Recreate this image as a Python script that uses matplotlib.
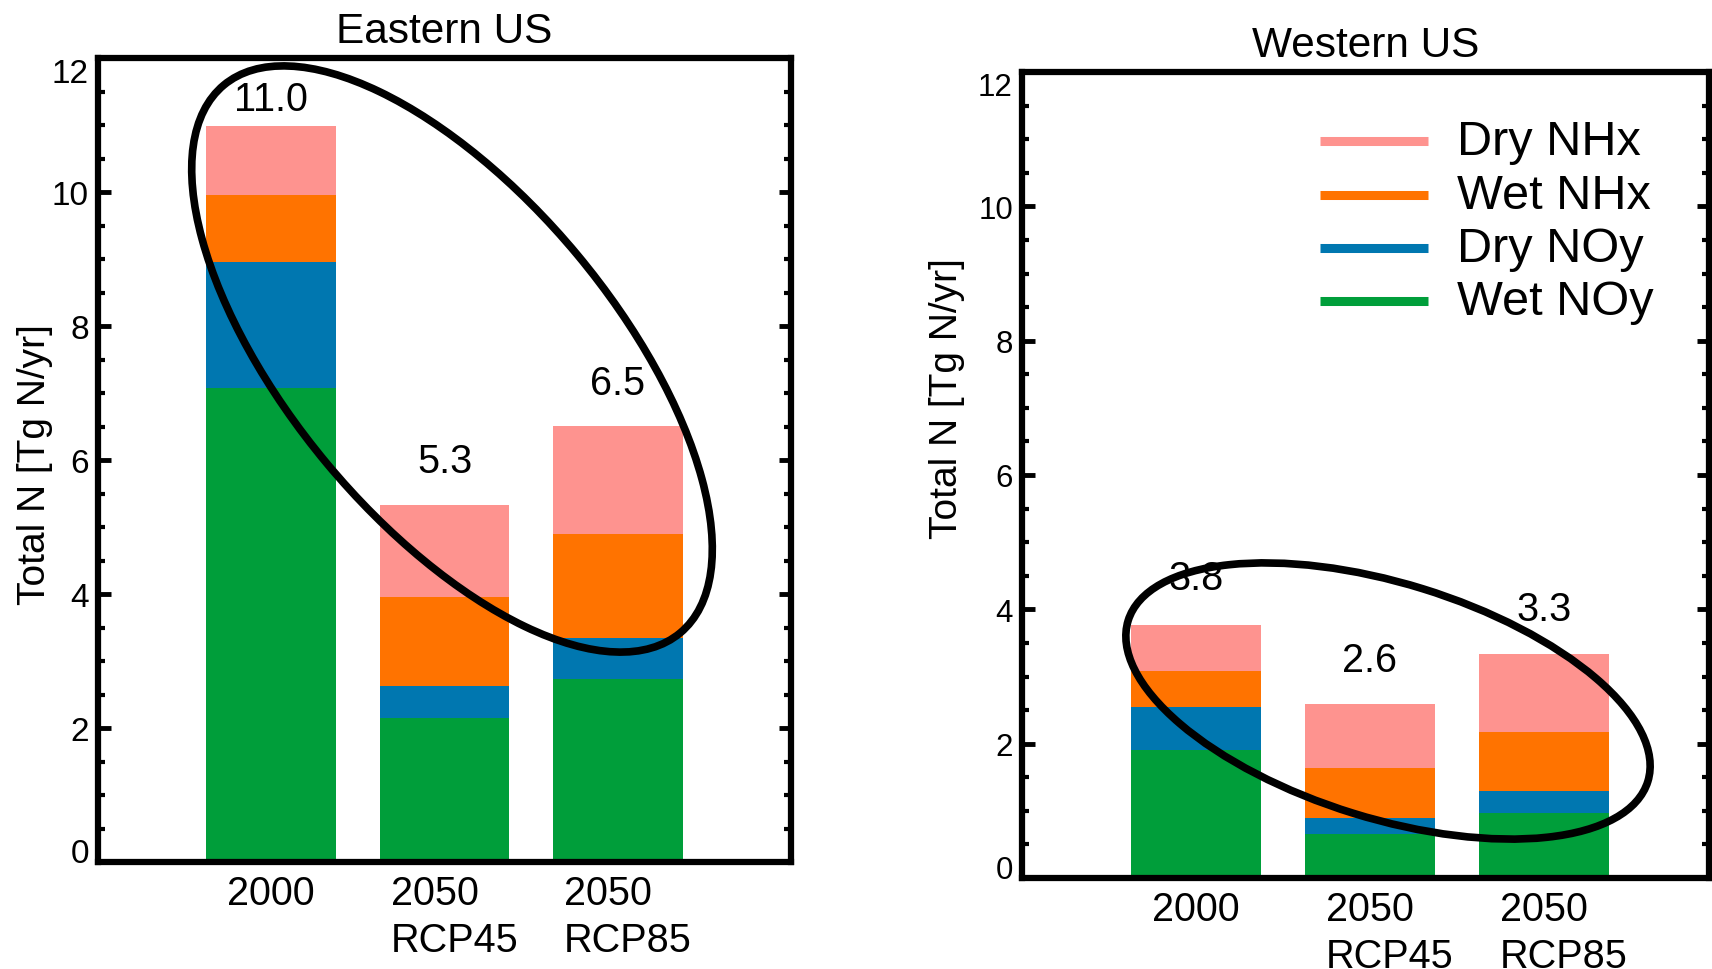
import numpy as np
import matplotlib
matplotlib.use("Agg")
import matplotlib.pyplot as plt
from matplotlib.patches import Ellipse
from matplotlib.ticker import MultipleLocator
from matplotlib.transforms import ScaledTranslation

plt.rcParams['font.family'] = ['Liberation Sans', 'DejaVu Sans']

scenarios = ['2000', '2050\nRCP45', '2050\nRCP85']
species = ['Dry NHx', 'Wet NHx', 'Dry NOy', 'Wet NOy']
colors = {'Dry NHx': '#fe938f', 'Wet NHx': '#ff7300',
          'Dry NOy': '#0077b0', 'Wet NOy': '#009e3a'}
yticks = [0, 2, 4, 6, 8, 10, 12]

# deposition, Tg N/yr
east_wet_noy = [7.08, 2.15, 2.73]
east_dry_noy = [1.87, 0.48, 0.61]
east_wet_nhx = [1.01, 1.32, 1.56]
east_dry_nhx = [1.03, 1.38, 1.60]

west_wet_noy = [1.91, 0.65, 0.97]
west_dry_noy = [0.64, 0.25, 0.33]
west_wet_nhx = [0.53, 0.74, 0.88]
west_dry_nhx = [0.68, 0.95, 1.16]


def panel(ax, stack, title, pads, xmax, tsize, ylab_xy, shift):
    x = np.arange(1, len(scenarios) + 1)
    bottom = np.zeros(len(x))
    # stacked bottom -> top
    for name in ['Wet NOy', 'Dry NOy', 'Wet NHx', 'Dry NHx']:
        vals = np.array(stack[name])
        ax.bar(x, vals, 0.75, bottom=bottom, color=colors[name], linewidth=0)
        bottom += vals
    for xi, tot, p in zip(x, bottom, pads):
        ax.annotate(f'{tot:.1f}', xy=(xi, tot), xytext=(0, p),
                    textcoords='offset points', ha='center', va='baseline',
                    fontsize=28.5)

    ax.set_xlim(0, xmax)
    ax.set_ylim(0, 12)
    ax.set_xticks(x)
    ax.set_xticklabels(scenarios, fontsize=28.5, linespacing=1.3, ma='left')
    ax.set_yticks(yticks)
    ax.yaxis.set_minor_locator(MultipleLocator(0.5))
    ax.tick_params(axis='x', which='both', length=0, pad=9)
    ax.tick_params(axis='y', which='both', direction='in', left=True, right=True)
    ax.tick_params(axis='y', which='major', length=9, width=3.5, pad=6.5,
                   labelsize=tsize)
    ax.tick_params(axis='y', which='minor', length=5, width=3)
    for s in ax.spines.values():
        s.set_linewidth(4.5)
    ax.set_title(title, fontsize=30.5, pad=11.5)
    ax.set_ylabel('Total N [Tg N/yr]', fontsize=28)
    ax.yaxis.set_label_coords(*ylab_xy)

    # end labels kept inside the frame
    ylabs = ax.get_yticklabels()
    ylabs[0].set_va('baseline')
    ylabs[-1].set_va('top')
    for lab in ax.get_xticklabels():
        if '\n' in lab.get_text():
            lab.set_transform(lab.get_transform() +
                              ScaledTranslation(shift / 100, 0, fig.dpi_scale_trans))


fig = plt.figure(figsize=(17.12, 9.70), dpi=100)
ax1 = fig.add_axes([98 / 1712, 1 - 863 / 970, 693 / 1712, 804 / 970])
ax2 = fig.add_axes([1022 / 1712, 1 - 879 / 970, 687 / 1712, 806 / 970])

east = {'Wet NOy': east_wet_noy, 'Dry NOy': east_dry_noy,
        'Wet NHx': east_wet_nhx, 'Dry NHx': east_dry_nhx}
west = {'Wet NOy': west_wet_noy, 'Dry NOy': west_dry_noy,
        'Wet NHx': west_wet_nhx, 'Dry NHx': west_dry_nhx}

panel(ax1, east, 'Eastern US', [11, 23.5, 23.5], 4.0, 24, (-0.065, 0.496), 10)
panel(ax2, west, 'Western US', [26, 24, 24], 3.95, 22.5, (-0.083, 0.596), 20)

# legend drawn by hand in the western panel
for i, name in enumerate(species):
    y = 0.914 - i * 0.0661
    ax2.plot([0.434, 0.591], [y, y], color=colors[name], lw=6.5,
             solid_capstyle='butt', transform=ax2.transAxes)
    ax2.text(0.633, y - 0.0161, name, fontsize=35, va='baseline',
             transform=ax2.transAxes)

# highlight ellipses (figure inches)
fig.add_artist(Ellipse((4.52, 6.10), 7.13, 3.26, angle=-50.2, fill=False,
                       lw=5.5, ec='black', transform=fig.dpi_scale_trans,
                       zorder=10))
fig.add_artist(Ellipse((13.88, 2.68), 5.44, 2.35, angle=-17.2, fill=False,
                       lw=5.5, ec='black', transform=fig.dpi_scale_trans,
                       zorder=10))

fig.savefig('out.png', dpi=100)
